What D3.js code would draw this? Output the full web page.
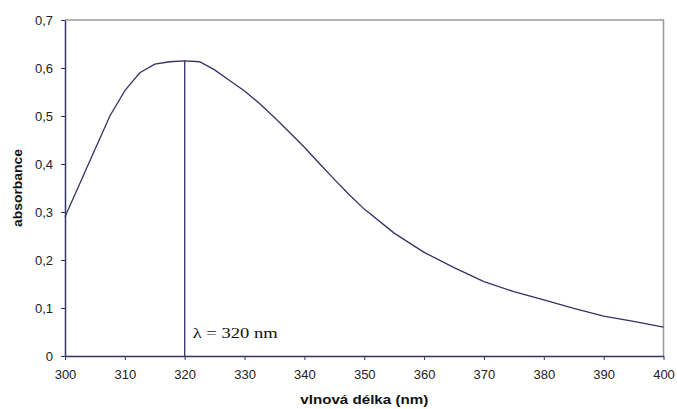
<!DOCTYPE html>
<html>
<head>
<meta charset="utf-8">
<script src="https://cdn.jsdelivr.net/npm/d3@7"></script>
<style>
  body { margin: 0; background: #fff; }
  svg { display: block; }
</style>
</head>
<body>
<svg id="chart" width="677" height="409"></svg>
<script>
// wavelength (nm) and measured absorbance
const wavelengths = [300, 302.5, 305, 307.5, 310, 312.5, 315, 317.5, 320, 322.5, 325, 327.5, 330, 332.5, 335, 337.5, 340, 342.5, 345, 347.5, 350, 355, 360, 365, 370, 375, 380, 385, 390, 395, 400];
const absorbance = [0.29, 0.36, 0.43, 0.50, 0.553, 0.59, 0.608, 0.613, 0.615, 0.613, 0.596, 0.574, 0.552, 0.526, 0.497, 0.466, 0.435, 0.401, 0.368, 0.336, 0.306, 0.256, 0.216, 0.184, 0.155, 0.134, 0.117, 0.099, 0.083, 0.072, 0.060];
const xTicks = [300, 310, 320, 330, 340, 350, 360, 370, 380, 390, 400];
const yTicks = [0, 0.1, 0.2, 0.3, 0.4, 0.5, 0.6, 0.7];
const peakWl = 320;
const peakAbs = 0.615;

const margin = { left: 65, top: 20, right: 13, bottom: 53 };
const svg = d3.select('#chart');
const W = +svg.attr('width'), H = +svg.attr('height');

const x = d3.scaleLinear().domain([300, 400]).range([margin.left, W - margin.right - 0.5]);
const y = d3.scaleLinear().domain([0, 0.7]).range([H - margin.bottom, margin.top]);

const axisColor = '#333366';
const sans = 'Liberation Sans, Arial, sans-serif';
const fmt = d => d === 0 ? '0' : d3.format('.1f')(d).replace('.', ',');

// gray frame on top and right
svg.append('path')
  .attr('d', `M${x(300)},${y(0.7)}H${x(400)}V${y(0)}`)
  .attr('fill', 'none')
  .attr('stroke', '#999')
  .attr('stroke-width', 1.5);

const xAxis = svg.append('g')
  .attr('transform', `translate(0,${y(0)})`)
  .call(d3.axisBottom(x).tickValues(xTicks).tickSizeInner(4).tickSizeOuter(0).tickPadding(10));

const yAxis = svg.append('g')
  .attr('transform', `translate(${x(300)},0)`)
  .call(d3.axisLeft(y).tickValues(yTicks).tickFormat(fmt).tickSizeInner(4).tickSizeOuter(0).tickPadding(8));

[xAxis, yAxis].forEach(g => {
  g.select('.domain').attr('stroke', axisColor).attr('stroke-width', 1.5);
  g.selectAll('.tick line').attr('stroke', axisColor);
  g.selectAll('.tick text')
    .attr('fill', '#222')
    .attr('font-family', sans)
    .attr('font-size', 13);
});

// absorbance curve
const line = d3.line()
  .x((d, i) => x(wavelengths[i]))
  .y(d => y(d));

svg.append('path')
  .datum(absorbance)
  .attr('d', line)
  .attr('fill', 'none')
  .attr('stroke', axisColor)
  .attr('stroke-width', 1.3);

// peak marker
svg.append('line')
  .attr('x1', x(peakWl)).attr('x2', x(peakWl))
  .attr('y1', y(0)).attr('y2', y(peakAbs))
  .attr('stroke', axisColor)
  .attr('stroke-width', 1.3);

svg.append('text')
  .attr('x', x(peakWl) + 8)
  .attr('y', y(0) - 18)
  .attr('font-family', 'Liberation Serif, Times New Roman, serif')
  .attr('font-size', 15)
  .attr('textLength', 85)
  .attr('lengthAdjust', 'spacingAndGlyphs')
  .attr('fill', '#111')
  .text('λ = 320 nm');

// axis titles
svg.append('text')
  .attr('x', (x(300) + x(400)) / 2)
  .attr('y', H - 5)
  .attr('text-anchor', 'middle')
  .attr('font-family', sans)
  .attr('font-weight', 'bold')
  .attr('font-size', 13)
  .attr('textLength', 128)
  .attr('lengthAdjust', 'spacingAndGlyphs')
  .attr('fill', '#111')
  .text('vlnová délka (nm)');

svg.append('text')
  .attr('transform', `translate(22,${(y(0) + y(0.7)) / 2}) rotate(-90)`)
  .attr('text-anchor', 'middle')
  .attr('font-family', sans)
  .attr('font-weight', 'bold')
  .attr('font-size', 13)
  .attr('textLength', 78)
  .attr('lengthAdjust', 'spacingAndGlyphs')
  .attr('fill', '#111')
  .text('absorbance');
</script>
</body>
</html>
